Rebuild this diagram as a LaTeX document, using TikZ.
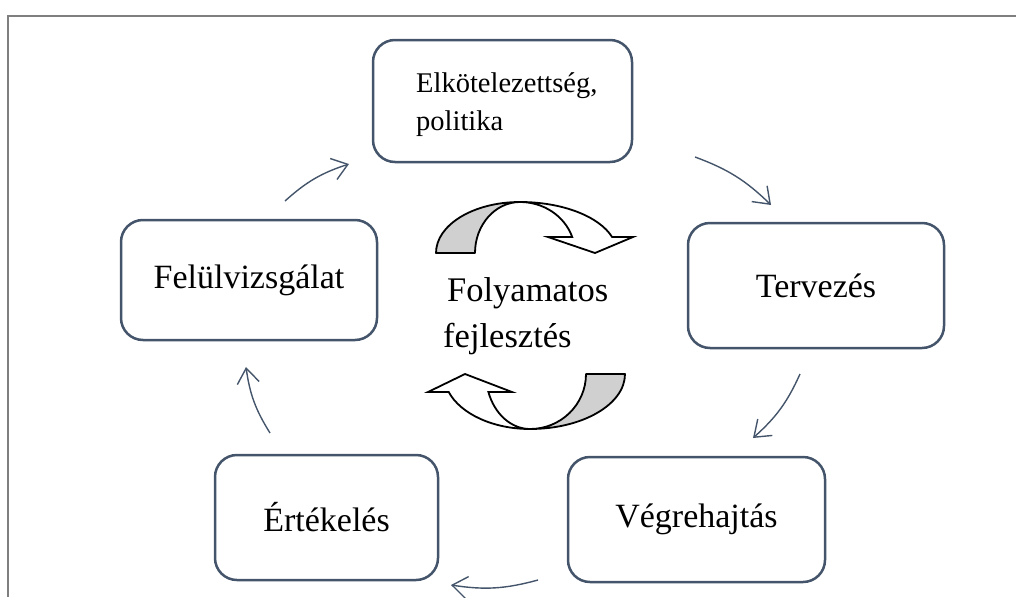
\documentclass[tikz,border=0pt]{standalone}
\usepackage{fontspec}
\setmainfont{Liberation Serif}
\usetikzlibrary{arrows.meta}
\definecolor{boxline}{HTML}{44546A}
\definecolor{frameline}{HTML}{7F7F7F}
\definecolor{ribbon}{HTML}{D0D0D0}
\tikzset{
  stagebox/.style={draw=boxline, line width=2.5pt, rounded corners=22pt,
    inner sep=0pt, font=\fontsize{34}{40}\selectfont, align=center},
  cyclearrow/.style={draw=boxline, line width=1.4pt, bend left=12,
    -{Straight Barb[length=15pt,width=22pt,line width=1.4pt]}},
  ribbonback/.style={draw=black, line width=1.8pt, fill=ribbon, line join=round},
  ribbonfront/.style={draw=black, line width=1.8pt, fill=white, line join=miter},
  centertext/.style={font=\fontsize{34.5}{40}\selectfont, inner sep=0pt, anchor=base west}
}
\begin{document}
\begin{tikzpicture}[x=1pt, y=-1pt]
\useasboundingbox (0,0) rectangle (1016,597);
% page frame (top and left edges)
\draw[frameline, line width=2pt] (1016,16) -- (8,16) -- (8,597);

% stages of the cycle
\node[stagebox, minimum width=259pt, minimum height=122pt] (commit) at (502.5,101) {};
\node[font=\fontsize{28.5}{38}\selectfont, align=left, inner sep=0pt,
  anchor=north west] (committext) at (416,72) {Elkötelezettség,\\politika};
\node[stagebox, minimum width=256pt, minimum height=125pt] (plan) at (816,285.5) {Tervezés};
\node[stagebox, minimum width=257pt, minimum height=125pt] (do) at (696.5,519.5) {Végrehajtás};
\node[stagebox, minimum width=223pt, minimum height=125pt] (check) at (326.5,517.5) {Értékelés};
\node[stagebox, minimum width=256pt, minimum height=120pt] (review) at (249,280) {Felülvizsgálat};

% end points of the cycle arrows
\coordinate (a1s) at (285,201);  \coordinate (a1e) at (349,164);
\coordinate (a2s) at (695,157);  \coordinate (a2e) at (771,205);
\coordinate (a3s) at (800,374);  \coordinate (a3e) at (753,438);
\coordinate (a4s) at (538,580);  \coordinate (a4e) at (451,585);
\coordinate (a5s) at (270,433);  \coordinate (a5e) at (246,367);

\draw[cyclearrow] (a1s) to (a1e);
\draw[cyclearrow] (a2s) to (a2e);
\draw[cyclearrow] (a3s) to (a3e);
\draw[cyclearrow] (a4s) to (a4e);
\draw[cyclearrow] (a5s) to (a5e);

% upper twisted arrow
\path[ribbonback] (436,253) .. controls (436,224.8) and (473.6,202) .. (520,202)
  .. controls (495.2,202) and (475,224.8) .. (475,253) -- cycle;
\path[ribbonfront] (520,202) .. controls (561.8,202) and (598.9,216.1) .. (612.1,237)
  -- (633,237) -- (595,253) -- (548,237) -- (572.2,237)
  .. controls (564.7,216.1) and (543.7,202) .. (520,202) -- cycle;

% lower twisted arrow
\path[ribbonback] (625,374) .. controls (625,404.4) and (582.4,429) .. (530,429)
  .. controls (560.9,429) and (586,404.4) .. (586,374) -- cycle;
\path[ribbonfront] (530,429) .. controls (493.4,429) and (460.7,414.1) .. (448.7,392)
  -- (428,392) -- (465,374) -- (512,392) -- (488.4,392)
  .. controls (494.5,414.1) and (511.3,429) .. (530,429) -- cycle;

% centre label
\node[centertext] (ctop) at (447,301) {Folyamatos};
\node[centertext] (cbot) at (443,347) {fejlesztés};
\end{tikzpicture}
\end{document}
